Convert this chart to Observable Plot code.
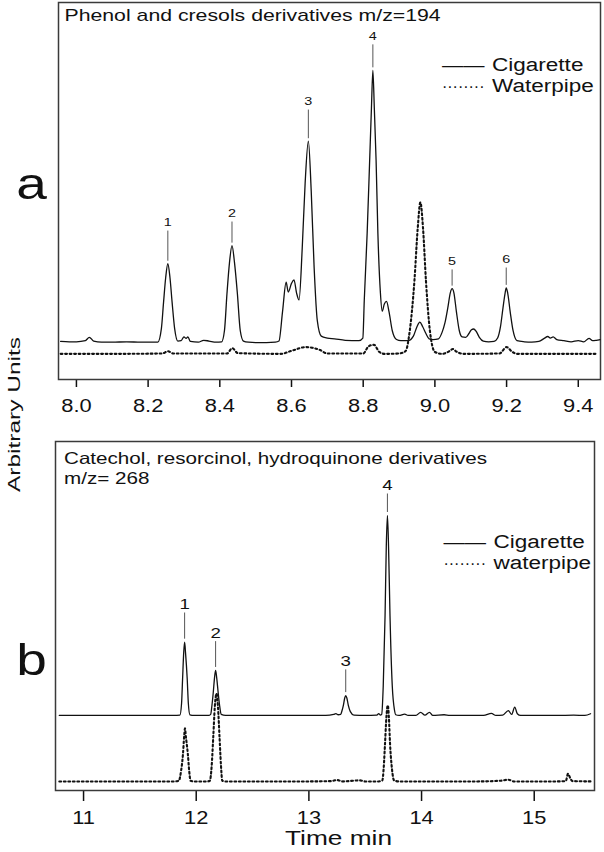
<!DOCTYPE html>
<html>
<head>
<meta charset="utf-8">
<script src="https://cdn.jsdelivr.net/npm/d3@7"></script>
<script src="https://cdn.jsdelivr.net/npm/@observablehq/plot@0.6"></script>
<style>
  body { margin: 0; background: #fff; }
  #wrap { position: relative; width: 604px; height: 852px; overflow: hidden; background: #fff; }
  #top { position: absolute; left: 0; top: 0; }
  #bot { position: absolute; left: 0; top: 436px; }
  svg g[aria-label="x-axis tick"] { stroke-width: 1.5px; }
</style>
</head>
<body>
<div id="wrap"><div id="top"></div><div id="bot"></div></div>
<script>
// ---------- Panel a : Phenol and cresols derivatives m/z=194 ----------
const titleA = "Phenol and cresols derivatives m/z=194";
const legendA = ["Cigarette", "Waterpipe"];
const ticksA = [8.0, 8.2, 8.4, 8.6, 8.8, 9.0, 9.2, 9.4];
// [time (min), intensity (arbitrary units)]
const cigaretteA = [
  [7.956,10.1],[7.98,10.0],[8.00,10.0],[8.025,10.3],[8.036,11.2],[8.048,10.2],[8.07,9.9],[8.10,9.9],[8.14,10.0],[8.18,9.9],[8.215,9.9],
  [8.227,9.9],[8.237,13.5],[8.243,20.4],[8.249,27.0],[8.255,30.7],[8.261,27.0],[8.267,20.4],[8.274,13.5],[8.283,10.2],
  [8.292,10.3],[8.300,11.3],[8.306,10.9],[8.311,11.3],[8.318,10.1],[8.34,9.9],[8.355,10.4],[8.37,10.2],[8.39,9.9],
  [8.405,10.0],[8.413,13.0],[8.420,22.8],[8.427,31.0],[8.434,35.5],[8.441,31.0],[8.449,22.8],[8.457,13.0],[8.466,10.2],
  [8.48,9.9],[8.50,9.8],[8.53,9.8],[8.555,9.9],
  [8.565,10.2],[8.575,18.0],[8.585,25.8],[8.591,23.2],[8.600,25.5],[8.607,26.4],[8.614,23.0],[8.621,21.1],[8.630,35.0],[8.638,52.0],[8.647,63.2],[8.655,50.0],[8.663,30.0],[8.672,15.6],[8.683,11.5],[8.70,11.0],[8.72,10.8],[8.75,10.4],[8.788,10.3],
  [8.799,11.0],[8.803,21.0],[8.811,38.7],[8.818,58.0],[8.823,72.0],[8.827,82.0],[8.831,72.0],[8.836,58.0],[8.841,38.7],[8.848,23.0],[8.853,18.1],[8.859,20.0],[8.865,20.7],[8.872,18.0],[8.881,13.0],[8.893,10.6],[8.905,10.3],[8.925,10.3],
  [8.940,11.5],[8.950,14.0],[8.958,15.2],[8.966,14.0],[8.975,12.2],[8.984,10.8],[8.995,10.6],[9.010,10.8],[9.020,12.5],
  [9.028,15.0],[9.036,19.0],[9.043,23.0],[9.048,24.1],[9.053,23.0],[9.060,18.0],[9.068,13.0],[9.076,11.3],[9.086,11.2],[9.095,12.2],[9.102,13.2],[9.108,13.4],[9.115,12.8],[9.124,11.2],[9.135,10.2],[9.150,10.0],[9.165,10.1],
  [9.175,11.0],[9.183,14.0],[9.190,19.0],[9.196,23.0],[9.199,24.3],[9.203,23.0],[9.210,18.0],[9.218,13.0],[9.229,10.3],[9.25,10.0],[9.27,9.9],[9.29,10.1],[9.305,10.9],[9.315,11.4],[9.322,11.0],[9.33,11.3],[9.34,10.6],[9.36,10.3],[9.38,10.0],[9.40,10.3],[9.415,10.0],[9.43,10.9],[9.44,10.3],[9.45,10.4],[9.461,10.6]
];
const waterpipeA = [
  [7.956,6.8],[8.10,6.8],[8.24,6.9],[8.255,7.5],[8.27,6.9],[8.42,6.9],[8.435,8.3],[8.45,7.0],[8.57,6.8],[8.60,7.6],[8.64,8.6],[8.68,7.8],[8.70,6.9],[8.80,6.9],[8.815,8.8],[8.83,9.2],[8.845,7.3],[8.86,6.8],[8.90,6.9],
  [8.918,7.5],[8.930,13.0],[8.943,26.3],[8.952,40.0],[8.9595,47.0],[8.967,40.0],[8.975,26.3],[8.986,13.0],[9.0,7.3],
  [9.02,6.8],[9.04,7.5],[9.05,8.1],[9.06,7.4],[9.08,6.8],[9.18,6.9],[9.2,8.6],[9.215,7.4],[9.23,6.8],[9.451,6.8]
];
const peakNamesA = ["1", "2", "3", "4", "5", "6"];
const peakTimesA = [8.255, 8.434, 8.647, 8.827, 9.048, 9.199];
const peakTopsA = [30.7, 35.5, 63.2, 82.0, 24.1, 24.3];
const peakLabelLevelA = [41.6, 44.0, 73.7, 91.0, 31.3, 31.8];

// ---------- Panel b : Catechol, resorcinol, hydroquinone derivatives m/z= 268 ----------
const titleB = ["Catechol, resorcinol, hydroquinone derivatives", "m/z= 268"];
const legendB = ["Cigarette", "waterpipe"];
const ticksB = [11, 12, 13, 14, 15];
const cigaretteB = [
  [10.785,21.5],[11.00,21.5],[11.30,21.5],[11.60,21.5],[11.80,21.5],
  [11.855,21.6],[11.870,25.0],[11.879,32.0],[11.889,39.5],[11.897,42.5],[11.905,39.5],[11.920,32.0],[11.930,25.0],[11.944,21.7],
  [11.98,21.5],[12.05,21.5],[12.11,21.5],
  [12.128,21.8],[12.140,24.5],[12.151,28.0],[12.163,32.5],[12.172,34.4],[12.181,32.5],[12.195,28.0],[12.207,24.5],[12.222,21.8],
  [12.26,21.5],[12.40,21.5],[12.60,21.5],[12.80,21.5],[13.00,21.5],[13.15,21.5],[13.22,21.8],[13.24,22.0],[13.26,21.7],
  [13.282,21.8],[13.295,23.0],[13.306,24.4],[13.318,26.5],[13.327,27.2],[13.337,26.5],[13.350,24.4],[13.368,22.6],[13.40,21.6],
  [13.50,21.5],[13.60,21.6],[13.62,22.0],[13.635,21.6],
  [13.646,21.8],[13.660,30.0],[13.676,50.0],[13.687,70.0],[13.697,78.8],[13.707,70.0],[13.720,50.0],[13.740,30.0],[13.760,23.0],[13.771,21.7],
  [13.80,21.5],[13.85,21.9],[13.88,21.5],[13.95,21.5],[13.992,22.4],[14.03,21.6],[14.07,22.4],[14.10,21.5],[14.20,21.7],[14.25,21.5],
  [14.40,21.5],[14.55,21.5],[14.62,22.1],[14.66,21.5],[14.72,21.6],[14.77,22.9],[14.80,21.8],[14.827,23.9],[14.85,22.0],[14.88,21.5],
  [15.00,21.5],[15.20,21.5],[15.35,21.6],[15.45,21.5],[15.50,22.0]
];
const waterpipeB = [
  [10.785,2.6],[11.50,2.6],[11.80,2.6],
  [11.846,2.8],[11.865,5.5],[11.882,10.3],[11.893,15.5],[11.900,17.8],[11.908,15.5],[11.926,10.3],[11.938,5.5],[11.950,2.8],
  [11.98,2.6],[12.10,2.6],
  [12.121,2.8],[12.137,7.0],[12.151,15.2],[12.165,24.0],[12.180,27.8],[12.193,24.0],[12.207,15.2],[12.220,7.0],[12.231,2.8],
  [12.26,2.6],[12.60,2.6],[13.00,2.6],[13.20,2.7],[13.25,3.0],[13.30,2.6],[13.45,2.9],[13.50,2.6],[13.62,2.6],
  [13.652,2.9],[13.665,7.0],[13.676,13.6],[13.688,21.0],[13.700,24.4],[13.710,21.0],[13.720,13.6],[13.738,6.0],[13.756,2.9],
  [13.80,2.6],[14.20,2.6],[14.50,2.6],[14.70,2.8],[14.77,3.1],[14.82,2.6],[15.20,2.6],[15.28,2.7],[15.30,4.8],[15.32,3.5],[15.34,2.7],[15.507,2.6]
];
const peakNamesB = ["1", "2", "3", "4"];
const peakTimesB = [11.897, 12.172, 13.327, 13.697];
const peakTopsB = [42.5, 34.4, 27.2, 78.8];
const peakLabelLevelB = [53.3, 45.1, 37.0, 87.4];

const axisTitleY = "Arbitrary Units";
const axisTitleX = "Time min";
const panelLetters = ["a", "b"];

// ---------- helpers ----------
const FONT = "'Liberation Sans', Arial, Helvetica, sans-serif";
const INK = "#111";
const SOLID_SAMPLE = "——";
const DOTTED_SAMPLE = "········";

const peaks = (names, times, tops, levels) =>
  names.map((name, i) => ({name, t: times[i], top: tops[i], level: levels[i]}));

function stretchText(svg) {
  svg.querySelectorAll("text").forEach(el => {
    const spans = el.querySelectorAll("tspan");
    const targets = spans.length ? Array.from(spans) : [el];
    targets.forEach(t => {
      const s = t.textContent;
      let len;
      if (s === axisTitleY) len = 155;
      else if (s === SOLID_SAMPLE || s === DOTTED_SAMPLE) len = 42.5;
      else len = t.getComputedTextLength() * 1.25;
      t.setAttribute("textLength", len.toFixed(1));
      t.setAttribute("lengthAdjust", "spacingAndGlyphs");
    });
  });
}

const lineMarks = (cig, water) => [
  Plot.line(water, {x: d => d[0], y: d => d[1], stroke: INK, strokeWidth: 2.1, strokeDasharray: "1.8,2.7", curve: "monotone-x"}),
  Plot.line(cig, {x: d => d[0], y: d => d[1], stroke: INK, strokeWidth: 1.3, curve: "monotone-x"})
];

const legendMarks = (labels, dxLine, dxText, dy1, dy2) => [
  Plot.text([SOLID_SAMPLE], {frameAnchor: "top-left", dx: dxLine, dy: dy1, textAnchor: "start", lineAnchor: "middle", fontSize: 18, fill: INK}),
  Plot.text([DOTTED_SAMPLE], {frameAnchor: "top-left", dx: dxLine, dy: dy2, textAnchor: "start", lineAnchor: "middle", fontSize: 17, fill: INK}),
  Plot.text([labels[0]], {frameAnchor: "top-left", dx: dxText, dy: dy1, textAnchor: "start", lineAnchor: "middle", fontSize: 18, fill: INK}),
  Plot.text([labels[1]], {frameAnchor: "top-left", dx: dxText, dy: dy2, textAnchor: "start", lineAnchor: "middle", fontSize: 18, fill: INK})
];

const peakMarks = (data, size, gapLow, gapHigh) => [
  Plot.link(data, {x1: "t", x2: "t", y1: d => d.top + gapLow, y2: d => d.level - gapHigh, stroke: "#555", strokeWidth: 1}),
  Plot.text(data, {x: "t", y: "level", text: "name", fontSize: size, lineAnchor: "middle", fill: INK})
];

// ---------- panel a ----------
const plotA = Plot.plot({
  width: 604, height: 425,
  marginTop: 2, marginRight: 4, marginBottom: 46, marginLeft: 58,
  style: {fontFamily: FONT, fontSize: "17.5px", color: INK, background: "none", overflow: "visible"},
  x: {domain: [7.95, 9.462], ticks: ticksA, tickFormat: d3.format(".1f"), tickSize: 8, tickPadding: 12, label: null},
  y: {domain: [0, 100], axis: null},
  marks: [
    Plot.frame({stroke: "#3a3a3a", strokeWidth: 1.5}),
    ...lineMarks(cigaretteA, waterpipeA),
    ...peakMarks(peaks(peakNamesA, peakTimesA, peakTopsA, peakLabelLevelA), 11.5, 0.8, 2.1),
    Plot.text([titleA], {frameAnchor: "top-left", dx: 6, dy: 6, textAnchor: "start", lineAnchor: "top", fontSize: 17, fill: INK}),
    ...legendMarks(legendA, 383.5, 433.6, 63, 84),
    Plot.text([panelLetters[0]], {frameAnchor: "left", dx: -27, dy: -6, textAnchor: "middle", lineAnchor: "middle", fontSize: 44, fill: INK}),
    Plot.text([axisTitleY], {frameAnchor: "left", dx: -44, dy: 223.5, rotate: -90, textAnchor: "middle", lineAnchor: "middle", fontSize: 16.5, fill: INK})
  ]
});
document.getElementById("top").appendChild(plotA);
stretchText(plotA);

// ---------- panel b ----------
const plotB = Plot.plot({
  width: 604, height: 416,
  marginTop: 5, marginRight: 10, marginBottom: 62, marginLeft: 55,
  style: {fontFamily: FONT, fontSize: "17.5px", color: INK, background: "none", overflow: "visible"},
  x: {domain: [10.751, 15.535], ticks: ticksB, tickFormat: d => String(d), tickSize: 11, tickPadding: 10, label: null},
  y: {domain: [0, 100], axis: null},
  marks: [
    Plot.frame({stroke: "#3a3a3a", strokeWidth: 1.5}),
    ...lineMarks(cigaretteB, waterpipeB),
    ...peakMarks(peaks(peakNamesB, peakTimesB, peakTopsB, peakLabelLevelB), 15, 1.0, 2.3),
    Plot.text([titleB[0]], {frameAnchor: "top-left", dx: 8.5, dy: 10.5, textAnchor: "start", lineAnchor: "top", fontSize: 16.5, fill: INK}),
    Plot.text([titleB[1]], {frameAnchor: "top-left", dx: 8.5, dy: 30.5, textAnchor: "start", lineAnchor: "top", fontSize: 16.5, fill: INK}),
    ...legendMarks(legendB, 388, 438, 100.5, 122),
    Plot.text([panelLetters[1]], {frameAnchor: "left", dx: -24, dy: 44.5, textAnchor: "middle", lineAnchor: "middle", fontSize: 44, fill: INK}),
    Plot.text([axisTitleX], {frameAnchor: "bottom", dx: 13.5, dy: 48, textAnchor: "middle", lineAnchor: "middle", fontSize: 21, fill: INK})
  ]
});
document.getElementById("bot").appendChild(plotB);
stretchText(plotB);
</script>
</body>
</html>
